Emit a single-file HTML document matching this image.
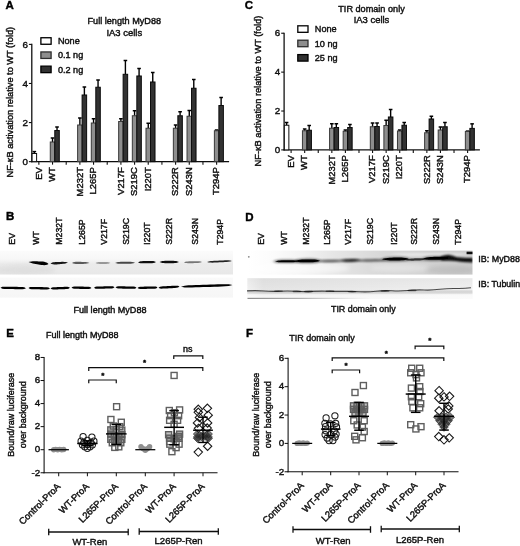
<!DOCTYPE html>
<html lang="en"><head><meta charset="utf-8"><title>MyD88 mutants figure</title>
<style>html,body{margin:0;padding:0;background:#fff}svg{display:block}text{font-family:'Liberation Sans', Arial, Helvetica, sans-serif;stroke:#000;stroke-width:0.4px;paint-order:stroke}</style>
</head><body>
<svg width="520" height="546" viewBox="0 0 520 546">
<rect width="520" height="546" fill="#fff"/>
<defs><filter id="soft" x="0" y="0" width="520" height="546" filterUnits="userSpaceOnUse"><feGaussianBlur stdDeviation="0.42"/></filter></defs>
<g filter="url(#soft)">
<text x="5.5" y="8.7" font-size="11.5" text-anchor="start" font-weight="bold" fill="#000">A</text>
<text x="244.8" y="8.7" font-size="11.5" text-anchor="start" font-weight="bold" fill="#000">C</text>
<text x="6" y="220.4" font-size="11.5" text-anchor="start" font-weight="bold" fill="#000">B</text>
<text x="245.3" y="220.8" font-size="11.5" text-anchor="start" font-weight="bold" fill="#000">D</text>
<text x="6.3" y="336.7" font-size="11.5" text-anchor="start" font-weight="bold" fill="#000">E</text>
<text x="246" y="336.7" font-size="11.5" text-anchor="start" font-weight="bold" fill="#000">F</text>
<line x1="31.80" y1="43.80" x2="31.80" y2="162.25" stroke="#111" stroke-width="1.3"/>
<line x1="31.20" y1="161.65" x2="229.10" y2="161.65" stroke="#111" stroke-width="1.3"/>
<line x1="28.90" y1="161.65" x2="31.80" y2="161.65" stroke="#111" stroke-width="1.1"/>
<text x="28.0" y="164.75" font-size="9.8" text-anchor="end" font-weight="normal" fill="#111">0</text>
<line x1="28.90" y1="122.57" x2="31.80" y2="122.57" stroke="#111" stroke-width="1.1"/>
<text x="28.0" y="125.67" font-size="9.8" text-anchor="end" font-weight="normal" fill="#111">2</text>
<line x1="28.90" y1="83.48" x2="31.80" y2="83.48" stroke="#111" stroke-width="1.1"/>
<text x="28.0" y="86.58" font-size="9.8" text-anchor="end" font-weight="normal" fill="#111">4</text>
<line x1="28.90" y1="44.40" x2="31.80" y2="44.40" stroke="#111" stroke-width="1.1"/>
<text x="28.0" y="47.5" font-size="9.8" text-anchor="end" font-weight="normal" fill="#111">6</text>
<line x1="38.85" y1="161.65" x2="38.85" y2="164.65" stroke="#111" stroke-width="1.1"/>
<text x="41.55" y="167.1" font-size="9.45" text-anchor="end" font-weight="normal" fill="#111" transform="rotate(-90 41.55 167.1)">EV</text>
<line x1="52.53" y1="161.65" x2="52.53" y2="164.65" stroke="#111" stroke-width="1.1"/>
<text x="55.23" y="167.1" font-size="9.45" text-anchor="end" font-weight="normal" fill="#111" transform="rotate(-90 55.23 167.1)">WT</text>
<line x1="66.20" y1="161.65" x2="66.20" y2="164.65" stroke="#111" stroke-width="1.1"/>
<line x1="79.88" y1="161.65" x2="79.88" y2="164.65" stroke="#111" stroke-width="1.1"/>
<text x="82.58" y="167.1" font-size="9.45" text-anchor="end" font-weight="normal" fill="#111" transform="rotate(-90 82.58 167.1)">M232T</text>
<line x1="93.55" y1="161.65" x2="93.55" y2="164.65" stroke="#111" stroke-width="1.1"/>
<text x="96.25" y="167.1" font-size="9.45" text-anchor="end" font-weight="normal" fill="#111" transform="rotate(-90 96.25 167.1)">L265P</text>
<line x1="107.22" y1="161.65" x2="107.22" y2="164.65" stroke="#111" stroke-width="1.1"/>
<line x1="120.90" y1="161.65" x2="120.90" y2="164.65" stroke="#111" stroke-width="1.1"/>
<text x="123.6" y="167.1" font-size="9.45" text-anchor="end" font-weight="normal" fill="#111" transform="rotate(-90 123.6 167.1)">V217F</text>
<line x1="134.58" y1="161.65" x2="134.58" y2="164.65" stroke="#111" stroke-width="1.1"/>
<text x="137.28" y="167.1" font-size="9.45" text-anchor="end" font-weight="normal" fill="#111" transform="rotate(-90 137.28 167.1)">S219C</text>
<line x1="148.25" y1="161.65" x2="148.25" y2="164.65" stroke="#111" stroke-width="1.1"/>
<text x="150.95" y="167.1" font-size="9.45" text-anchor="end" font-weight="normal" fill="#111" transform="rotate(-90 150.95 167.1)">I220T</text>
<line x1="161.93" y1="161.65" x2="161.93" y2="164.65" stroke="#111" stroke-width="1.1"/>
<line x1="175.60" y1="161.65" x2="175.60" y2="164.65" stroke="#111" stroke-width="1.1"/>
<text x="178.3" y="167.1" font-size="9.45" text-anchor="end" font-weight="normal" fill="#111" transform="rotate(-90 178.3 167.1)">S222R</text>
<line x1="189.28" y1="161.65" x2="189.28" y2="164.65" stroke="#111" stroke-width="1.1"/>
<text x="191.97" y="167.1" font-size="9.45" text-anchor="end" font-weight="normal" fill="#111" transform="rotate(-90 191.97 167.1)">S243N</text>
<line x1="202.95" y1="161.65" x2="202.95" y2="164.65" stroke="#111" stroke-width="1.1"/>
<line x1="216.62" y1="161.65" x2="216.62" y2="164.65" stroke="#111" stroke-width="1.1"/>
<text x="219.32" y="167.1" font-size="9.45" text-anchor="end" font-weight="normal" fill="#111" transform="rotate(-90 219.32 167.1)">T294P</text>
<line x1="34.35" y1="151.60" x2="34.35" y2="153.50" stroke="#000" stroke-width="1.4"/>
<line x1="32.55" y1="151.60" x2="36.15" y2="151.60" stroke="#000" stroke-width="1.5"/>
<rect x="32.10" y="153.50" width="4.50" height="8.15" fill="#ffffff" stroke="#111" stroke-width="1.0"/>
<line x1="52.53" y1="138.00" x2="52.53" y2="142.00" stroke="#000" stroke-width="1.4"/>
<line x1="50.73" y1="138.00" x2="54.33" y2="138.00" stroke="#000" stroke-width="1.5"/>
<rect x="50.28" y="142.00" width="4.50" height="19.65" fill="#8e8e8e" stroke="#3a3a3a" stroke-width="1.0"/>
<line x1="57.03" y1="127.00" x2="57.03" y2="130.50" stroke="#000" stroke-width="1.4"/>
<line x1="55.23" y1="127.00" x2="58.83" y2="127.00" stroke="#000" stroke-width="1.5"/>
<rect x="54.78" y="130.50" width="4.50" height="31.15" fill="#333333" stroke="#0a0a0a" stroke-width="1.0"/>
<line x1="79.88" y1="118.00" x2="79.88" y2="125.00" stroke="#000" stroke-width="1.4"/>
<line x1="78.08" y1="118.00" x2="81.67" y2="118.00" stroke="#000" stroke-width="1.5"/>
<rect x="77.62" y="125.00" width="4.50" height="36.65" fill="#8e8e8e" stroke="#3a3a3a" stroke-width="1.0"/>
<line x1="84.38" y1="87.00" x2="84.38" y2="95.00" stroke="#000" stroke-width="1.4"/>
<line x1="82.58" y1="87.00" x2="86.17" y2="87.00" stroke="#000" stroke-width="1.5"/>
<rect x="82.12" y="95.00" width="4.50" height="66.65" fill="#333333" stroke="#0a0a0a" stroke-width="1.0"/>
<line x1="93.55" y1="118.75" x2="93.55" y2="123.00" stroke="#000" stroke-width="1.4"/>
<line x1="91.75" y1="118.75" x2="95.35" y2="118.75" stroke="#000" stroke-width="1.5"/>
<rect x="91.30" y="123.00" width="4.50" height="38.65" fill="#8e8e8e" stroke="#3a3a3a" stroke-width="1.0"/>
<line x1="98.05" y1="80.00" x2="98.05" y2="87.25" stroke="#000" stroke-width="1.4"/>
<line x1="96.25" y1="80.00" x2="99.85" y2="80.00" stroke="#000" stroke-width="1.5"/>
<rect x="95.80" y="87.25" width="4.50" height="74.40" fill="#333333" stroke="#0a0a0a" stroke-width="1.0"/>
<line x1="120.90" y1="118.75" x2="120.90" y2="121.50" stroke="#000" stroke-width="1.4"/>
<line x1="119.10" y1="118.75" x2="122.70" y2="118.75" stroke="#000" stroke-width="1.5"/>
<rect x="118.65" y="121.50" width="4.50" height="40.15" fill="#8e8e8e" stroke="#3a3a3a" stroke-width="1.0"/>
<line x1="125.40" y1="60.50" x2="125.40" y2="74.30" stroke="#000" stroke-width="1.4"/>
<line x1="123.60" y1="60.50" x2="127.20" y2="60.50" stroke="#000" stroke-width="1.5"/>
<rect x="123.15" y="74.30" width="4.50" height="87.35" fill="#333333" stroke="#0a0a0a" stroke-width="1.0"/>
<line x1="134.58" y1="110.75" x2="134.58" y2="115.75" stroke="#000" stroke-width="1.4"/>
<line x1="132.78" y1="110.75" x2="136.38" y2="110.75" stroke="#000" stroke-width="1.5"/>
<rect x="132.33" y="115.75" width="4.50" height="45.90" fill="#8e8e8e" stroke="#3a3a3a" stroke-width="1.0"/>
<line x1="139.08" y1="68.50" x2="139.08" y2="76.00" stroke="#000" stroke-width="1.4"/>
<line x1="137.28" y1="68.50" x2="140.88" y2="68.50" stroke="#000" stroke-width="1.5"/>
<rect x="136.83" y="76.00" width="4.50" height="85.65" fill="#333333" stroke="#0a0a0a" stroke-width="1.0"/>
<line x1="148.25" y1="123.25" x2="148.25" y2="128.25" stroke="#000" stroke-width="1.4"/>
<line x1="146.45" y1="123.25" x2="150.05" y2="123.25" stroke="#000" stroke-width="1.5"/>
<rect x="146.00" y="128.25" width="4.50" height="33.40" fill="#8e8e8e" stroke="#3a3a3a" stroke-width="1.0"/>
<line x1="152.75" y1="72.50" x2="152.75" y2="82.00" stroke="#000" stroke-width="1.4"/>
<line x1="150.95" y1="72.50" x2="154.55" y2="72.50" stroke="#000" stroke-width="1.5"/>
<rect x="150.50" y="82.00" width="4.50" height="79.65" fill="#333333" stroke="#0a0a0a" stroke-width="1.0"/>
<line x1="175.60" y1="125.00" x2="175.60" y2="128.25" stroke="#000" stroke-width="1.4"/>
<line x1="173.80" y1="125.00" x2="177.40" y2="125.00" stroke="#000" stroke-width="1.5"/>
<rect x="173.35" y="128.25" width="4.50" height="33.40" fill="#8e8e8e" stroke="#3a3a3a" stroke-width="1.0"/>
<line x1="180.10" y1="111.75" x2="180.10" y2="115.75" stroke="#000" stroke-width="1.4"/>
<line x1="178.30" y1="111.75" x2="181.90" y2="111.75" stroke="#000" stroke-width="1.5"/>
<rect x="177.85" y="115.75" width="4.50" height="45.90" fill="#333333" stroke="#0a0a0a" stroke-width="1.0"/>
<line x1="189.28" y1="110.50" x2="189.28" y2="116.25" stroke="#000" stroke-width="1.4"/>
<line x1="187.47" y1="110.50" x2="191.08" y2="110.50" stroke="#000" stroke-width="1.5"/>
<rect x="187.03" y="116.25" width="4.50" height="45.40" fill="#8e8e8e" stroke="#3a3a3a" stroke-width="1.0"/>
<line x1="193.78" y1="79.50" x2="193.78" y2="88.25" stroke="#000" stroke-width="1.4"/>
<line x1="191.97" y1="79.50" x2="195.58" y2="79.50" stroke="#000" stroke-width="1.5"/>
<rect x="191.53" y="88.25" width="4.50" height="73.40" fill="#333333" stroke="#0a0a0a" stroke-width="1.0"/>
<line x1="216.62" y1="130.00" x2="216.62" y2="130.75" stroke="#000" stroke-width="1.4"/>
<line x1="214.82" y1="130.00" x2="218.43" y2="130.00" stroke="#000" stroke-width="1.5"/>
<rect x="214.38" y="130.75" width="4.50" height="30.90" fill="#8e8e8e" stroke="#3a3a3a" stroke-width="1.0"/>
<line x1="221.12" y1="97.50" x2="221.12" y2="105.50" stroke="#000" stroke-width="1.4"/>
<line x1="219.32" y1="97.50" x2="222.93" y2="97.50" stroke="#000" stroke-width="1.5"/>
<rect x="218.88" y="105.50" width="4.50" height="56.15" fill="#333333" stroke="#0a0a0a" stroke-width="1.0"/>
<rect x="40.90" y="37.75" width="10.20" height="6.50" fill="#ffffff" stroke="#000" stroke-width="1.3"/>
<text x="57.9" y="44.15" font-size="9.15" text-anchor="start" font-weight="normal" fill="#111">None</text>
<rect x="40.90" y="51.95" width="10.20" height="6.50" fill="#8e8e8e" stroke="#2e2e2e" stroke-width="1.3"/>
<text x="57.9" y="58.35" font-size="9.15" text-anchor="start" font-weight="normal" fill="#111">0.1 ng</text>
<rect x="40.90" y="66.15" width="10.20" height="6.50" fill="#333333" stroke="#000" stroke-width="1.3"/>
<text x="57.9" y="72.55" font-size="9.15" text-anchor="start" font-weight="normal" fill="#111">0.2 ng</text>
<text x="124.3" y="24.4" font-size="9.15" text-anchor="middle" font-weight="normal" fill="#111">Full length MyD88</text>
<text x="124.3" y="35.9" font-size="9.45" text-anchor="middle" font-weight="normal" fill="#111">IA3 cells</text>
<text x="13.5" y="102.2" font-size="9.24" text-anchor="middle" fill="#111" transform="rotate(-90 13.5 102.2)">NF-κB activation relative to WT (fold)</text>
<line x1="284.10" y1="32.65" x2="284.10" y2="150.50" stroke="#111" stroke-width="1.3"/>
<line x1="283.50" y1="149.90" x2="479.90" y2="149.90" stroke="#111" stroke-width="1.3"/>
<line x1="281.20" y1="149.90" x2="284.10" y2="149.90" stroke="#111" stroke-width="1.1"/>
<text x="280.3" y="153.0" font-size="9.8" text-anchor="end" font-weight="normal" fill="#111">0</text>
<line x1="281.20" y1="111.02" x2="284.10" y2="111.02" stroke="#111" stroke-width="1.1"/>
<text x="280.3" y="114.12" font-size="9.8" text-anchor="end" font-weight="normal" fill="#111">2</text>
<line x1="281.20" y1="72.13" x2="284.10" y2="72.13" stroke="#111" stroke-width="1.1"/>
<text x="280.3" y="75.23" font-size="9.8" text-anchor="end" font-weight="normal" fill="#111">4</text>
<line x1="281.20" y1="33.25" x2="284.10" y2="33.25" stroke="#111" stroke-width="1.1"/>
<text x="280.3" y="36.35" font-size="9.8" text-anchor="end" font-weight="normal" fill="#111">6</text>
<line x1="291.10" y1="149.90" x2="291.10" y2="152.90" stroke="#111" stroke-width="1.1"/>
<text x="293.8" y="155.2" font-size="9.45" text-anchor="end" font-weight="normal" fill="#111" transform="rotate(-90 293.8 155.2)">EV</text>
<line x1="304.68" y1="149.90" x2="304.68" y2="152.90" stroke="#111" stroke-width="1.1"/>
<text x="307.38" y="155.2" font-size="9.45" text-anchor="end" font-weight="normal" fill="#111" transform="rotate(-90 307.38 155.2)">WT</text>
<line x1="318.25" y1="149.90" x2="318.25" y2="152.90" stroke="#111" stroke-width="1.1"/>
<line x1="331.83" y1="149.90" x2="331.83" y2="152.90" stroke="#111" stroke-width="1.1"/>
<text x="334.53" y="155.2" font-size="9.45" text-anchor="end" font-weight="normal" fill="#111" transform="rotate(-90 334.53 155.2)">M232T</text>
<line x1="345.41" y1="149.90" x2="345.41" y2="152.90" stroke="#111" stroke-width="1.1"/>
<text x="348.11" y="155.2" font-size="9.45" text-anchor="end" font-weight="normal" fill="#111" transform="rotate(-90 348.11 155.2)">L265P</text>
<line x1="358.99" y1="149.90" x2="358.99" y2="152.90" stroke="#111" stroke-width="1.1"/>
<line x1="372.56" y1="149.90" x2="372.56" y2="152.90" stroke="#111" stroke-width="1.1"/>
<text x="375.26" y="155.2" font-size="9.45" text-anchor="end" font-weight="normal" fill="#111" transform="rotate(-90 375.26 155.2)">V217F</text>
<line x1="386.14" y1="149.90" x2="386.14" y2="152.90" stroke="#111" stroke-width="1.1"/>
<text x="388.84" y="155.2" font-size="9.45" text-anchor="end" font-weight="normal" fill="#111" transform="rotate(-90 388.84 155.2)">S219C</text>
<line x1="399.72" y1="149.90" x2="399.72" y2="152.90" stroke="#111" stroke-width="1.1"/>
<text x="402.42" y="155.2" font-size="9.45" text-anchor="end" font-weight="normal" fill="#111" transform="rotate(-90 402.42 155.2)">I220T</text>
<line x1="413.29" y1="149.90" x2="413.29" y2="152.90" stroke="#111" stroke-width="1.1"/>
<line x1="426.87" y1="149.90" x2="426.87" y2="152.90" stroke="#111" stroke-width="1.1"/>
<text x="429.57" y="155.2" font-size="9.45" text-anchor="end" font-weight="normal" fill="#111" transform="rotate(-90 429.57 155.2)">S222R</text>
<line x1="440.45" y1="149.90" x2="440.45" y2="152.90" stroke="#111" stroke-width="1.1"/>
<text x="443.15" y="155.2" font-size="9.45" text-anchor="end" font-weight="normal" fill="#111" transform="rotate(-90 443.15 155.2)">S243N</text>
<line x1="454.02" y1="149.90" x2="454.02" y2="152.90" stroke="#111" stroke-width="1.1"/>
<line x1="467.60" y1="149.90" x2="467.60" y2="152.90" stroke="#111" stroke-width="1.1"/>
<text x="470.3" y="155.2" font-size="9.45" text-anchor="end" font-weight="normal" fill="#111" transform="rotate(-90 470.3 155.2)">T294P</text>
<line x1="286.60" y1="122.50" x2="286.60" y2="125.25" stroke="#000" stroke-width="1.4"/>
<line x1="284.80" y1="122.50" x2="288.40" y2="122.50" stroke="#000" stroke-width="1.5"/>
<rect x="284.35" y="125.25" width="4.50" height="24.65" fill="#ffffff" stroke="#111" stroke-width="1.0"/>
<line x1="304.68" y1="129.00" x2="304.68" y2="130.75" stroke="#000" stroke-width="1.4"/>
<line x1="302.88" y1="129.00" x2="306.48" y2="129.00" stroke="#000" stroke-width="1.5"/>
<rect x="302.43" y="130.75" width="4.50" height="19.15" fill="#8e8e8e" stroke="#3a3a3a" stroke-width="1.0"/>
<line x1="309.18" y1="125.50" x2="309.18" y2="130.25" stroke="#000" stroke-width="1.4"/>
<line x1="307.38" y1="125.50" x2="310.98" y2="125.50" stroke="#000" stroke-width="1.5"/>
<rect x="306.93" y="130.25" width="4.50" height="19.65" fill="#333333" stroke="#0a0a0a" stroke-width="1.0"/>
<line x1="331.83" y1="123.75" x2="331.83" y2="128.25" stroke="#000" stroke-width="1.4"/>
<line x1="330.03" y1="123.75" x2="333.63" y2="123.75" stroke="#000" stroke-width="1.5"/>
<rect x="329.58" y="128.25" width="4.50" height="21.65" fill="#8e8e8e" stroke="#3a3a3a" stroke-width="1.0"/>
<line x1="336.33" y1="123.75" x2="336.33" y2="127.50" stroke="#000" stroke-width="1.4"/>
<line x1="334.53" y1="123.75" x2="338.13" y2="123.75" stroke="#000" stroke-width="1.5"/>
<rect x="334.08" y="127.50" width="4.50" height="22.40" fill="#333333" stroke="#0a0a0a" stroke-width="1.0"/>
<line x1="345.41" y1="130.00" x2="345.41" y2="131.25" stroke="#000" stroke-width="1.4"/>
<line x1="343.61" y1="130.00" x2="347.21" y2="130.00" stroke="#000" stroke-width="1.5"/>
<rect x="343.16" y="131.25" width="4.50" height="18.65" fill="#8e8e8e" stroke="#3a3a3a" stroke-width="1.0"/>
<line x1="349.91" y1="124.50" x2="349.91" y2="127.50" stroke="#000" stroke-width="1.4"/>
<line x1="348.11" y1="124.50" x2="351.71" y2="124.50" stroke="#000" stroke-width="1.5"/>
<rect x="347.66" y="127.50" width="4.50" height="22.40" fill="#333333" stroke="#0a0a0a" stroke-width="1.0"/>
<line x1="372.56" y1="123.00" x2="372.56" y2="126.75" stroke="#000" stroke-width="1.4"/>
<line x1="370.76" y1="123.00" x2="374.36" y2="123.00" stroke="#000" stroke-width="1.5"/>
<rect x="370.31" y="126.75" width="4.50" height="23.15" fill="#8e8e8e" stroke="#3a3a3a" stroke-width="1.0"/>
<line x1="377.06" y1="123.00" x2="377.06" y2="126.50" stroke="#000" stroke-width="1.4"/>
<line x1="375.26" y1="123.00" x2="378.86" y2="123.00" stroke="#000" stroke-width="1.5"/>
<rect x="374.81" y="126.50" width="4.50" height="23.40" fill="#333333" stroke="#0a0a0a" stroke-width="1.0"/>
<line x1="386.14" y1="120.25" x2="386.14" y2="125.50" stroke="#000" stroke-width="1.4"/>
<line x1="384.34" y1="120.25" x2="387.94" y2="120.25" stroke="#000" stroke-width="1.5"/>
<rect x="383.89" y="125.50" width="4.50" height="24.40" fill="#8e8e8e" stroke="#3a3a3a" stroke-width="1.0"/>
<line x1="390.64" y1="109.50" x2="390.64" y2="117.00" stroke="#000" stroke-width="1.4"/>
<line x1="388.84" y1="109.50" x2="392.44" y2="109.50" stroke="#000" stroke-width="1.5"/>
<rect x="388.39" y="117.00" width="4.50" height="32.90" fill="#333333" stroke="#0a0a0a" stroke-width="1.0"/>
<line x1="399.72" y1="130.00" x2="399.72" y2="131.00" stroke="#000" stroke-width="1.4"/>
<line x1="397.92" y1="130.00" x2="401.52" y2="130.00" stroke="#000" stroke-width="1.5"/>
<rect x="397.47" y="131.00" width="4.50" height="18.90" fill="#8e8e8e" stroke="#3a3a3a" stroke-width="1.0"/>
<line x1="404.22" y1="122.50" x2="404.22" y2="125.25" stroke="#000" stroke-width="1.4"/>
<line x1="402.42" y1="122.50" x2="406.02" y2="122.50" stroke="#000" stroke-width="1.5"/>
<rect x="401.97" y="125.25" width="4.50" height="24.65" fill="#333333" stroke="#0a0a0a" stroke-width="1.0"/>
<line x1="426.87" y1="130.75" x2="426.87" y2="132.75" stroke="#000" stroke-width="1.4"/>
<line x1="425.07" y1="130.75" x2="428.67" y2="130.75" stroke="#000" stroke-width="1.5"/>
<rect x="424.62" y="132.75" width="4.50" height="17.15" fill="#8e8e8e" stroke="#3a3a3a" stroke-width="1.0"/>
<line x1="431.37" y1="116.25" x2="431.37" y2="119.00" stroke="#000" stroke-width="1.4"/>
<line x1="429.57" y1="116.25" x2="433.17" y2="116.25" stroke="#000" stroke-width="1.5"/>
<rect x="429.12" y="119.00" width="4.50" height="30.90" fill="#333333" stroke="#0a0a0a" stroke-width="1.0"/>
<line x1="440.45" y1="127.00" x2="440.45" y2="130.00" stroke="#000" stroke-width="1.4"/>
<line x1="438.65" y1="127.00" x2="442.25" y2="127.00" stroke="#000" stroke-width="1.5"/>
<rect x="438.20" y="130.00" width="4.50" height="19.90" fill="#8e8e8e" stroke="#3a3a3a" stroke-width="1.0"/>
<line x1="444.95" y1="122.50" x2="444.95" y2="126.75" stroke="#000" stroke-width="1.4"/>
<line x1="443.15" y1="122.50" x2="446.75" y2="122.50" stroke="#000" stroke-width="1.5"/>
<rect x="442.70" y="126.75" width="4.50" height="23.15" fill="#333333" stroke="#0a0a0a" stroke-width="1.0"/>
<line x1="467.60" y1="131.10" x2="467.60" y2="131.50" stroke="#000" stroke-width="1.4"/>
<line x1="465.80" y1="131.10" x2="469.40" y2="131.10" stroke="#000" stroke-width="1.5"/>
<rect x="465.35" y="131.50" width="4.50" height="18.40" fill="#8e8e8e" stroke="#3a3a3a" stroke-width="1.0"/>
<line x1="472.10" y1="123.85" x2="472.10" y2="128.40" stroke="#000" stroke-width="1.4"/>
<line x1="470.30" y1="123.85" x2="473.90" y2="123.85" stroke="#000" stroke-width="1.5"/>
<rect x="469.85" y="128.40" width="4.50" height="21.50" fill="#333333" stroke="#0a0a0a" stroke-width="1.0"/>
<rect x="297.80" y="25.80" width="10.20" height="6.50" fill="#ffffff" stroke="#000" stroke-width="1.3"/>
<text x="314.8" y="32.2" font-size="9.15" text-anchor="start" font-weight="normal" fill="#111">None</text>
<rect x="297.80" y="40.20" width="10.20" height="6.50" fill="#8e8e8e" stroke="#2e2e2e" stroke-width="1.3"/>
<text x="314.8" y="46.6" font-size="9.15" text-anchor="start" font-weight="normal" fill="#111">10 ng</text>
<rect x="297.80" y="54.60" width="10.20" height="6.50" fill="#333333" stroke="#000" stroke-width="1.3"/>
<text x="314.8" y="61.0" font-size="9.15" text-anchor="start" font-weight="normal" fill="#111">25 ng</text>
<text x="371.5" y="11.6" font-size="9.15" text-anchor="middle" font-weight="normal" fill="#111">TIR domain only</text>
<text x="371.5" y="23.1" font-size="9.45" text-anchor="middle" font-weight="normal" fill="#111">IA3 cells</text>
<text x="261.5" y="91.05" font-size="9.24" text-anchor="middle" fill="#111" transform="rotate(-90 261.5 91.05)">NF-κB activation relative to WT (fold)</text>
<defs>
<filter id="b1" x="-20%" y="-300%" width="140%" height="700%"><feGaussianBlur stdDeviation="0.95"/></filter>
<filter id="b2" x="-20%" y="-300%" width="140%" height="700%"><feGaussianBlur stdDeviation="0.65"/></filter>
<filter id="b3" x="-20%" y="-300%" width="140%" height="700%"><feGaussianBlur stdDeviation="2.2"/></filter>
<filter id="b4" x="-20%" y="-300%" width="140%" height="700%"><feGaussianBlur stdDeviation="0.4"/></filter>
<linearGradient id="gB1" x1="0" y1="0" x2="0" y2="1"><stop offset="0" stop-color="#fbfbfb"/><stop offset="0.35" stop-color="#f7f7f7"/><stop offset="0.55" stop-color="#ebebeb"/><stop offset="1" stop-color="#e8e8e8"/></linearGradient>
<linearGradient id="gB2" x1="0" y1="0" x2="0" y2="1"><stop offset="0" stop-color="#fafafa"/><stop offset="1" stop-color="#f6f6f6"/></linearGradient>
<linearGradient id="gD1" x1="0" y1="0" x2="1" y2="0"><stop offset="0" stop-color="#ffffff"/><stop offset="0.12" stop-color="#fbfbfb"/><stop offset="0.24" stop-color="#f3f3f3"/><stop offset="0.38" stop-color="#e6e6e6"/><stop offset="0.6" stop-color="#d8d8d8"/><stop offset="1" stop-color="#cbcbcb"/></linearGradient>
<linearGradient id="gD2" x1="0" y1="0" x2="1" y2="0"><stop offset="0" stop-color="#f6f6f6"/><stop offset="0.07" stop-color="#e9e9e9"/><stop offset="0.45" stop-color="#eeeeee"/><stop offset="1" stop-color="#f5f5f5"/></linearGradient>
<linearGradient id="gD2v" x1="0" y1="0" x2="0" y2="1"><stop offset="0" stop-color="#000" stop-opacity="0.05"/><stop offset="0.55" stop-color="#000" stop-opacity="0.02"/><stop offset="0.8" stop-color="#fff" stop-opacity="0.5"/><stop offset="1" stop-color="#fff" stop-opacity="0.6"/></linearGradient>
<clipPath id="cD1"><rect x="247.5" y="250.6" width="225" height="24"/></clipPath>
<clipPath id="cB1"><rect x="0" y="250.8" width="233" height="23.7"/></clipPath>
</defs>
<rect x="0.00" y="250.80" width="233.00" height="23.70" fill="url(#gB1)" stroke="none" stroke-width="1"/>
<g clip-path="url(#cB1)"><ellipse cx="25" cy="270" rx="30" ry="5" fill="#d8d8d8" opacity="0.6" filter="url(#b3)"/></g>
<rect x="0.00" y="277.60" width="233.00" height="20.00" fill="url(#gB2)" stroke="none" stroke-width="1"/>
<polygon points="28.5,262.00 29.9,261.67 31.4,261.45 32.8,261.34 34.2,261.30 35.6,261.31 37.1,261.35 38.5,261.40 39.9,261.45 41.4,261.51 42.8,261.60 44.2,261.79 45.6,262.15 47.1,262.81 48.5,263.90 48.5,263.90 47.1,264.72 45.6,265.10 44.2,265.19 42.8,265.11 41.4,264.94 39.9,264.72 38.5,264.50 37.1,264.28 35.6,264.04 34.2,263.78 32.8,263.48 31.4,263.09 29.9,262.60 28.5,262.00" fill="#000" opacity="1.0" filter="url(#b2)"/>
<polygon points="50.5,263.50 51.8,262.79 53.0,262.37 54.2,262.13 55.5,262.01 56.8,261.95 58.0,261.92 59.2,261.90 60.5,261.88 61.8,261.86 63.0,261.86 64.2,261.91 65.5,262.03 66.8,262.25 68.0,262.60 68.0,262.60 66.8,263.08 65.5,263.43 64.2,263.67 63.0,263.85 61.8,263.98 60.5,264.09 59.2,264.20 58.0,264.30 56.8,264.40 55.5,264.47 54.2,264.48 53.0,264.37 51.8,264.08 50.5,263.50" fill="#000" opacity="0.92" filter="url(#b2)"/>
<polygon points="72.0,262.90 73.2,262.33 74.5,262.01 75.8,261.85 77.0,261.80 78.2,261.80 79.5,261.82 80.8,261.85 82.0,261.88 83.2,261.92 84.5,261.97 85.8,262.07 87.0,262.23 88.2,262.50 89.5,262.90 89.5,262.90 88.2,263.30 87.0,263.57 85.8,263.73 84.5,263.83 83.2,263.88 82.0,263.92 80.8,263.95 79.5,263.98 78.2,264.00 77.0,264.00 75.8,263.95 74.5,263.79 73.2,263.47 72.0,262.90" fill="#000" opacity="0.62" filter="url(#b2)"/>
<polygon points="95.5,263.00 96.6,262.53 97.6,262.25 98.7,262.09 99.8,262.01 100.9,261.97 101.9,261.96 103.0,261.95 104.1,261.94 105.1,261.94 106.2,261.96 107.3,262.03 108.4,262.17 109.4,262.45 110.5,262.90 110.5,262.90 109.4,263.37 108.4,263.65 107.3,263.81 106.2,263.89 105.1,263.93 104.1,263.94 103.0,263.95 101.9,263.96 100.9,263.96 99.8,263.94 98.7,263.87 97.6,263.73 96.6,263.45 95.5,263.00" fill="#000" opacity="0.36" filter="url(#b2)"/>
<polygon points="115.0,262.90 116.4,262.40 117.9,262.09 119.3,261.92 120.7,261.83 122.1,261.79 123.6,261.76 125.0,261.75 126.4,261.74 127.9,261.73 129.3,261.74 130.7,261.80 132.1,261.95 133.6,262.23 135.0,262.70 135.0,262.70 133.6,263.20 132.1,263.51 130.7,263.68 129.3,263.77 127.9,263.81 126.4,263.84 125.0,263.85 123.6,263.86 122.1,263.87 120.7,263.86 119.3,263.80 117.9,263.65 116.4,263.37 115.0,262.90" fill="#000" opacity="0.7" filter="url(#b2)"/>
<polygon points="138.0,262.30 139.3,261.66 140.6,261.32 141.9,261.16 143.1,261.08 144.4,261.05 145.7,261.02 147.0,261.00 148.3,260.98 149.6,260.96 150.9,260.95 152.1,260.98 153.4,261.11 154.7,261.40 156.0,262.00 156.0,262.00 154.7,262.64 153.4,262.98 152.1,263.14 150.9,263.22 149.6,263.25 148.3,263.28 147.0,263.30 145.7,263.32 144.4,263.34 143.1,263.35 141.9,263.32 140.6,263.19 139.3,262.90 138.0,262.30" fill="#000" opacity="0.95" filter="url(#b2)"/>
<polygon points="159.5,262.00 160.9,261.38 162.3,261.06 163.7,260.92 165.1,260.87 166.5,260.85 167.9,260.85 169.2,260.85 170.6,260.85 172.0,260.85 173.4,260.87 174.8,260.92 176.2,261.06 177.6,261.38 179.0,262.00 179.0,262.00 177.6,262.62 176.2,262.94 174.8,263.08 173.4,263.13 172.0,263.15 170.6,263.15 169.2,263.15 167.9,263.15 166.5,263.15 165.1,263.13 163.7,263.08 162.3,262.94 160.9,262.62 159.5,262.00" fill="#000" opacity="0.95" filter="url(#b2)"/>
<polygon points="184.0,262.40 185.3,261.86 186.6,261.57 187.9,261.42 189.1,261.35 190.4,261.31 191.7,261.28 193.0,261.25 194.3,261.22 195.6,261.19 196.9,261.18 198.1,261.19 199.4,261.28 200.7,261.52 202.0,262.00 202.0,262.00 200.7,262.54 199.4,262.83 198.1,262.98 196.9,263.05 195.6,263.09 194.3,263.12 193.0,263.15 191.7,263.18 190.4,263.21 189.1,263.22 187.9,263.21 186.6,263.12 185.3,262.88 184.0,262.40" fill="#000" opacity="0.5" filter="url(#b2)"/>
<polygon points="207.0,262.00 208.8,261.38 210.6,261.06 212.4,260.90 214.1,260.79 215.9,260.71 217.7,260.63 219.5,260.55 221.3,260.47 223.1,260.39 224.9,260.32 226.6,260.27 228.4,260.28 230.2,260.44 232.0,260.90 232.0,260.90 230.2,261.52 228.4,261.84 226.6,262.00 224.9,262.11 223.1,262.19 221.3,262.27 219.5,262.35 217.7,262.43 215.9,262.51 214.1,262.58 212.4,262.63 210.6,262.62 208.8,262.46 207.0,262.00" fill="#000" opacity="0.85" filter="url(#b2)"/>
<polygon points="0.5,287.70 2.3,286.83 4.1,286.66 6.0,286.66 7.8,286.69 9.6,286.73 11.4,286.76 13.2,286.80 15.1,286.84 16.9,286.87 18.7,286.91 20.5,286.95 22.4,287.02 24.2,287.26 26.0,288.20 26.0,288.20 24.2,289.07 22.4,289.24 20.5,289.24 18.7,289.21 16.9,289.17 15.1,289.14 13.2,289.10 11.4,289.06 9.6,289.03 7.8,288.99 6.0,288.95 4.1,288.88 2.3,288.64 0.5,287.70" fill="#000" opacity="1.0" filter="url(#b2)"/>
<polygon points="28.5,288.00 30.0,287.12 31.6,286.95 33.1,286.94 34.6,286.96 36.2,286.99 37.7,287.02 39.2,287.05 40.8,287.08 42.3,287.11 43.9,287.14 45.4,287.17 46.9,287.23 48.5,287.47 50.0,288.40 50.0,288.40 48.5,289.28 46.9,289.45 45.4,289.46 43.9,289.44 42.3,289.41 40.8,289.38 39.2,289.35 37.7,289.32 36.2,289.29 34.6,289.26 33.1,289.23 31.6,289.17 30.0,288.93 28.5,288.00" fill="#000" opacity="1.0" filter="url(#b2)"/>
<polygon points="50.5,288.50 51.9,287.55 53.3,287.29 54.7,287.20 56.1,287.15 57.5,287.10 58.9,287.05 60.2,287.00 61.6,286.95 63.0,286.90 64.4,286.85 65.8,286.80 67.2,286.79 68.6,286.95 70.0,287.80 70.0,287.80 68.6,288.75 67.2,289.01 65.8,289.10 64.4,289.15 63.0,289.20 61.6,289.25 60.2,289.30 58.9,289.35 57.5,289.40 56.1,289.45 54.7,289.50 53.3,289.51 51.9,289.35 50.5,288.50" fill="#000" opacity="1.0" filter="url(#b2)"/>
<polygon points="71.5,287.60 72.9,286.72 74.4,286.53 75.8,286.52 77.2,286.54 78.6,286.56 80.1,286.58 81.5,286.60 82.9,286.62 84.4,286.64 85.8,286.66 87.2,286.69 88.6,286.75 90.1,286.97 91.5,287.90 91.5,287.90 90.1,288.78 88.6,288.97 87.2,288.98 85.8,288.96 84.4,288.94 82.9,288.92 81.5,288.90 80.1,288.88 78.6,288.86 77.2,288.84 75.8,288.81 74.4,288.75 72.9,288.53 71.5,287.60" fill="#000" opacity="1.0" filter="url(#b2)"/>
<polygon points="94.0,287.80 95.5,286.85 96.9,286.60 98.4,286.53 99.9,286.48 101.3,286.44 102.8,286.39 104.2,286.35 105.7,286.31 107.2,286.26 108.6,286.22 110.1,286.18 111.6,286.18 113.0,286.34 114.5,287.20 114.5,287.20 113.0,288.15 111.6,288.40 110.1,288.47 108.6,288.52 107.2,288.56 105.7,288.61 104.2,288.65 102.8,288.69 101.3,288.74 99.9,288.78 98.4,288.82 96.9,288.82 95.5,288.66 94.0,287.80" fill="#000" opacity="1.0" filter="url(#b2)"/>
<polygon points="115.5,287.30 117.0,286.43 118.5,286.26 120.0,286.26 121.5,286.29 123.0,286.33 124.5,286.36 126.0,286.40 127.5,286.44 129.0,286.47 130.5,286.51 132.0,286.55 133.5,286.62 135.0,286.86 136.5,287.80 136.5,287.80 135.0,288.67 133.5,288.84 132.0,288.84 130.5,288.81 129.0,288.77 127.5,288.74 126.0,288.70 124.5,288.66 123.0,288.63 121.5,288.59 120.0,288.55 118.5,288.48 117.0,288.24 115.5,287.30" fill="#000" opacity="1.0" filter="url(#b2)"/>
<polygon points="137.5,287.90 138.9,286.97 140.4,286.73 141.8,286.67 143.2,286.64 144.6,286.61 146.1,286.58 147.5,286.55 148.9,286.52 150.4,286.49 151.8,286.46 153.2,286.44 154.6,286.45 156.1,286.62 157.5,287.50 157.5,287.50 156.1,288.43 154.6,288.67 153.2,288.73 151.8,288.76 150.4,288.79 148.9,288.82 147.5,288.85 146.1,288.88 144.6,288.91 143.2,288.94 141.8,288.96 140.4,288.95 138.9,288.78 137.5,287.90" fill="#000" opacity="1.0" filter="url(#b2)"/>
<polygon points="158.5,287.70 160.0,286.72 161.5,286.43 163.0,286.32 164.5,286.24 166.0,286.16 167.5,286.08 169.0,286.00 170.5,285.92 172.0,285.84 173.5,285.76 175.0,285.69 176.5,285.65 178.0,285.77 179.5,286.60 179.5,286.60 178.0,287.58 176.5,287.87 175.0,287.98 173.5,288.06 172.0,288.14 170.5,288.22 169.0,288.30 167.5,288.38 166.0,288.46 164.5,288.54 163.0,288.61 161.5,288.65 160.0,288.53 158.5,287.70" fill="#000" opacity="1.0" filter="url(#b2)"/>
<polygon points="181.0,286.70 184.7,285.67 188.4,285.35 192.0,285.19 195.7,285.06 199.4,284.94 203.1,284.82 206.8,284.70 210.4,284.58 214.1,284.46 217.8,284.34 221.5,284.22 225.1,284.13 228.8,284.22 232.5,285.00 232.5,285.00 228.8,286.03 225.1,286.35 221.5,286.51 217.8,286.64 214.1,286.76 210.4,286.88 206.8,287.00 203.1,287.12 199.4,287.24 195.7,287.36 192.0,287.48 188.4,287.57 184.7,287.48 181.0,286.70" fill="#000" opacity="1.0" filter="url(#b2)"/>
<text x="110" y="312.5" font-size="9.05" text-anchor="middle" font-weight="normal" fill="#111">Full length MyD88</text>
<text x="15.05" y="244.7" font-size="8.75" text-anchor="start" font-weight="normal" fill="#111" transform="rotate(-90 15.05 244.7)">EV</text>
<text x="38.7" y="244.7" font-size="8.75" text-anchor="start" font-weight="normal" fill="#111" transform="rotate(-90 38.7 244.7)">WT</text>
<text x="61.7" y="244.7" font-size="8.75" text-anchor="start" font-weight="normal" fill="#111" transform="rotate(-90 61.7 244.7)">M232T</text>
<text x="84.55" y="244.7" font-size="8.75" text-anchor="start" font-weight="normal" fill="#111" transform="rotate(-90 84.55 244.7)">L265P</text>
<text x="107.4" y="244.7" font-size="8.75" text-anchor="start" font-weight="normal" fill="#111" transform="rotate(-90 107.4 244.7)">V217F</text>
<text x="129.2" y="244.7" font-size="8.75" text-anchor="start" font-weight="normal" fill="#111" transform="rotate(-90 129.2 244.7)">S219C</text>
<text x="150.4" y="244.7" font-size="8.75" text-anchor="start" font-weight="normal" fill="#111" transform="rotate(-90 150.4 244.7)">I220T</text>
<text x="172.05" y="244.7" font-size="8.75" text-anchor="start" font-weight="normal" fill="#111" transform="rotate(-90 172.05 244.7)">S222R</text>
<text x="197.55" y="244.7" font-size="8.75" text-anchor="start" font-weight="normal" fill="#111" transform="rotate(-90 197.55 244.7)">S243N</text>
<text x="223.3" y="244.7" font-size="8.75" text-anchor="start" font-weight="normal" fill="#111" transform="rotate(-90 223.3 244.7)">T294P</text>
<rect x="247.50" y="250.60" width="225.00" height="24.00" fill="url(#gD1)" stroke="none" stroke-width="1"/>
<g clip-path="url(#cD1)">
<ellipse cx="300" cy="268" rx="50" ry="6" fill="#fff" opacity="0.5" filter="url(#b3)"/>
<ellipse cx="430" cy="254.5" rx="40" ry="1.6" fill="#fff" opacity="0.45" filter="url(#b1)"/>
<ellipse cx="400" cy="268" rx="30" ry="4" fill="#fff" opacity="0.3" filter="url(#b3)"/>
<ellipse cx="450" cy="270" rx="25" ry="4" fill="#000" opacity="0.07" filter="url(#b3)"/>
<polygon points="270.0,261.60 284.5,260.58 299.0,260.14 313.5,259.90 328.0,259.72 342.5,259.54 357.0,259.37 371.5,259.20 386.0,259.03 400.5,258.86 415.0,258.69 429.5,258.53 444.0,258.42 458.5,258.52 473.0,259.20 473.0,259.20 458.5,260.22 444.0,260.66 429.5,260.90 415.0,261.08 400.5,261.26 386.0,261.43 371.5,261.60 357.0,261.77 342.5,261.94 328.0,262.11 313.5,262.27 299.0,262.38 284.5,262.28 270.0,261.60" fill="#000" opacity="0.28" filter="url(#b1)"/>
<polygon points="273.0,261.40 274.9,260.56 276.7,260.04 278.6,259.75 280.4,259.60 282.3,259.54 284.1,259.52 286.0,259.50 287.9,259.49 289.7,259.48 291.6,259.52 293.4,259.63 295.3,259.90 297.1,260.39 299.0,261.20 299.0,261.20 297.1,262.04 295.3,262.56 293.4,262.85 291.6,263.00 289.7,263.06 287.9,263.08 286.0,263.10 284.1,263.11 282.3,263.12 280.4,263.08 278.6,262.97 276.7,262.70 274.9,262.21 273.0,261.40" fill="#000" opacity="0.45" filter="url(#b1)"/>
<polygon points="275.0,261.40 276.7,260.90 278.4,260.59 280.0,260.42 281.7,260.33 283.4,260.29 285.1,260.26 286.8,260.25 288.4,260.24 290.1,260.23 291.8,260.24 293.5,260.30 295.1,260.45 296.8,260.73 298.5,261.20 298.5,261.20 296.8,261.70 295.1,262.01 293.5,262.18 291.8,262.27 290.1,262.31 288.4,262.34 286.8,262.35 285.1,262.36 283.4,262.37 281.7,262.36 280.0,262.30 278.4,262.15 276.7,261.87 275.0,261.40" fill="#000" opacity="0.95" filter="url(#b2)"/>
<polygon points="294.0,261.00 295.9,259.93 297.9,259.27 299.8,258.90 301.7,258.72 303.6,258.64 305.6,258.62 307.5,258.60 309.4,258.59 311.4,258.59 313.3,258.63 315.2,258.79 317.1,259.13 319.1,259.76 321.0,260.80 321.0,260.80 319.1,261.87 317.1,262.53 315.2,262.90 313.3,263.08 311.4,263.16 309.4,263.18 307.5,263.20 305.6,263.21 303.6,263.21 301.7,263.17 299.8,263.01 297.9,262.67 295.9,262.04 294.0,261.00" fill="#000" opacity="0.5" filter="url(#b1)"/>
<polygon points="295.0,261.00 296.8,260.38 298.6,259.97 300.4,259.71 302.1,259.57 303.9,259.50 305.7,259.47 307.5,259.45 309.3,259.44 311.1,259.44 312.9,259.48 314.6,259.60 316.4,259.83 318.2,260.21 320.0,260.80 320.0,260.80 318.2,261.42 316.4,261.83 314.6,262.09 312.9,262.23 311.1,262.30 309.3,262.33 307.5,262.35 305.7,262.36 303.9,262.36 302.1,262.32 300.4,262.20 298.6,261.97 296.8,261.59 295.0,261.00" fill="#000" opacity="1.0" filter="url(#b2)"/>
<polygon points="318.0,261.20 319.7,260.78 321.4,260.47 323.1,260.26 324.9,260.13 326.6,260.05 328.3,260.02 330.0,260.00 331.7,259.99 333.4,260.00 335.1,260.04 336.9,260.15 338.6,260.33 340.3,260.61 342.0,261.00 342.0,261.00 340.3,261.42 338.6,261.73 336.9,261.94 335.1,262.07 333.4,262.15 331.7,262.18 330.0,262.20 328.3,262.21 326.6,262.20 324.9,262.16 323.1,262.05 321.4,261.87 319.7,261.59 318.0,261.20" fill="#000" opacity="0.5" filter="url(#b1)"/>
<polygon points="340.0,260.60 341.5,260.09 343.0,259.72 344.5,259.46 346.0,259.29 347.5,259.19 349.0,259.13 350.5,259.10 352.0,259.08 353.5,259.07 355.0,259.12 356.5,259.23 358.0,259.43 359.5,259.75 361.0,260.20 361.0,260.20 359.5,260.71 358.0,261.08 356.5,261.34 355.0,261.51 353.5,261.61 352.0,261.67 350.5,261.70 349.0,261.72 347.5,261.73 346.0,261.68 344.5,261.57 343.0,261.37 341.5,261.05 340.0,260.60" fill="#000" opacity="0.85" filter="url(#b1)"/>
<polygon points="358.0,260.60 360.0,260.20 362.0,259.91 364.0,259.70 366.0,259.56 368.0,259.48 370.0,259.43 372.0,259.40 374.0,259.37 376.0,259.37 378.0,259.39 380.0,259.47 382.0,259.62 384.0,259.86 386.0,260.20 386.0,260.20 384.0,260.60 382.0,260.89 380.0,261.10 378.0,261.24 376.0,261.32 374.0,261.37 372.0,261.40 370.0,261.43 368.0,261.43 366.0,261.41 364.0,261.33 362.0,261.18 360.0,260.94 358.0,260.60" fill="#000" opacity="0.5" filter="url(#b1)"/>
<polygon points="381.0,259.20 383.1,258.17 385.1,257.53 387.2,257.17 389.3,256.99 391.4,256.91 393.4,256.87 395.5,256.85 397.6,256.83 399.6,256.82 401.7,256.86 403.8,257.00 405.9,257.32 407.9,257.91 410.0,258.90 410.0,258.90 407.9,259.93 405.9,260.57 403.8,260.93 401.7,261.11 399.6,261.19 397.6,261.23 395.5,261.25 393.4,261.27 391.4,261.28 389.3,261.24 387.2,261.10 385.1,260.78 383.1,260.19 381.0,259.20" fill="#000" opacity="0.4" filter="url(#b1)"/>
<polygon points="382.0,259.20 383.9,258.62 385.9,258.20 387.8,257.92 389.7,257.73 391.6,257.63 393.6,257.58 395.5,257.55 397.4,257.53 399.4,257.54 401.3,257.60 403.2,257.74 405.1,257.99 407.1,258.37 409.0,258.90 409.0,258.90 407.1,259.48 405.1,259.90 403.2,260.18 401.3,260.37 399.4,260.47 397.4,260.52 395.5,260.55 393.6,260.57 391.6,260.56 389.7,260.50 387.8,260.36 385.9,260.11 383.9,259.73 382.0,259.20" fill="#000" opacity="1.0" filter="url(#b2)"/>
<polygon points="405.0,259.80 406.6,259.32 408.3,258.95 409.9,258.69 411.6,258.51 413.2,258.39 414.9,258.31 416.5,258.25 418.1,258.20 419.8,258.16 421.4,258.17 423.1,258.24 424.7,258.38 426.4,258.63 428.0,259.00 428.0,259.00 426.4,259.48 424.7,259.85 423.1,260.11 421.4,260.29 419.8,260.41 418.1,260.49 416.5,260.55 414.9,260.60 413.2,260.64 411.6,260.63 409.9,260.56 408.3,260.42 406.6,260.17 405.0,259.80" fill="#000" opacity="0.7" filter="url(#b2)"/>
<polygon points="422.0,258.50 424.0,257.45 426.0,256.80 428.0,256.43 430.0,256.23 432.0,256.14 434.0,256.09 436.0,256.05 438.0,256.02 440.0,255.99 442.0,256.02 444.0,256.14 446.0,256.44 448.0,257.02 450.0,258.00 450.0,258.00 448.0,259.05 446.0,259.70 444.0,260.07 442.0,260.27 440.0,260.36 438.0,260.41 436.0,260.45 434.0,260.48 432.0,260.51 430.0,260.48 428.0,260.36 426.0,260.06 424.0,259.48 422.0,258.50" fill="#000" opacity="0.4" filter="url(#b1)"/>
<polygon points="423.0,258.50 424.9,257.92 426.7,257.49 428.6,257.19 430.4,257.00 432.3,256.89 434.1,256.83 436.0,256.80 437.9,256.78 439.7,256.78 441.6,256.83 443.4,256.97 445.3,257.20 447.1,257.57 449.0,258.10 449.0,258.10 447.1,258.68 445.3,259.11 443.4,259.41 441.6,259.60 439.7,259.71 437.9,259.77 436.0,259.80 434.1,259.82 432.3,259.82 430.4,259.77 428.6,259.63 426.7,259.40 424.9,259.03 423.0,258.50" fill="#000" opacity="1.0" filter="url(#b2)"/>
<path d="M441 256.6 Q446 254.6 449.5 254.9 Q453 255.4 456.5 257.2 Q462 258.2 473 258.0 L473 262.4 Q462 262.2 455.5 261.0 Q450 260.4 441 260.3 Z" fill="#000" opacity="0.95" filter="url(#b1)"/>
<rect x="466.60" y="251.70" width="6.40" height="2.50" fill="#111" stroke="none" stroke-width="0" filter="url(#b2)"/>
</g>
<circle cx="248.8" cy="256.8" r="0.9" fill="#888" filter="url(#b4)"/>
<rect x="247.30" y="278.20" width="225.20" height="20.60" fill="url(#gD2)" stroke="none" stroke-width="1"/>
<rect x="247.30" y="278.20" width="225.20" height="20.60" fill="url(#gD2v)" stroke="none" stroke-width="1"/>
<path d="M247 290.9 Q256 290.3 264 291.0 T280 291.2 T296 291.3 T312 291.4 T328 291.2 T344 291.4 T360 291.7 T376 291.2 T392 290.8 T408 290.5 T424 290.0 T440 289.3 T456 288.5 T471 287.8" fill="none" stroke="#222" stroke-width="1.15" opacity="0.8" filter="url(#b2)"/>
<ellipse cx="278.5" cy="291.1" rx="4.5" ry="0.9" fill="#000" opacity="0.5" filter="url(#b2)"/>
<ellipse cx="297" cy="291.4" rx="4.5" ry="0.9" fill="#000" opacity="0.5" filter="url(#b2)"/>
<ellipse cx="308.5" cy="291.5" rx="4.5" ry="0.9" fill="#000" opacity="0.5" filter="url(#b2)"/>
<ellipse cx="330" cy="291.2" rx="4.5" ry="0.9" fill="#000" opacity="0.5" filter="url(#b2)"/>
<ellipse cx="352" cy="291.6" rx="4.5" ry="0.9" fill="#000" opacity="0.5" filter="url(#b2)"/>
<ellipse cx="385" cy="291.0" rx="4.5" ry="0.9" fill="#000" opacity="0.5" filter="url(#b2)"/>
<ellipse cx="412" cy="290.4" rx="4.5" ry="0.9" fill="#000" opacity="0.5" filter="url(#b2)"/>
<linearGradient id="gLn" x1="247" x2="370" y1="0" y2="0" gradientUnits="userSpaceOnUse"><stop offset="0" stop-color="#6a6a6a"/><stop offset="0.45" stop-color="#999"/><stop offset="0.75" stop-color="#bbb" stop-opacity="0.6"/><stop offset="1" stop-color="#ccc" stop-opacity="0"/></linearGradient>
<rect x="247.5" y="297.85" width="122" height="0.9" fill="url(#gLn)"/>
<text x="363.3" y="312.2" font-size="8.9" text-anchor="middle" font-weight="normal" fill="#111">TIR domain only</text>
<text x="264.2" y="244.7" font-size="8.75" text-anchor="start" font-weight="normal" fill="#111" transform="rotate(-90 264.2 244.7)">EV</text>
<text x="287.4" y="244.7" font-size="8.75" text-anchor="start" font-weight="normal" fill="#111" transform="rotate(-90 287.4 244.7)">WT</text>
<text x="308.9" y="244.7" font-size="8.75" text-anchor="start" font-weight="normal" fill="#111" transform="rotate(-90 308.9 244.7)">M232T</text>
<text x="329.55" y="244.7" font-size="8.75" text-anchor="start" font-weight="normal" fill="#111" transform="rotate(-90 329.55 244.7)">L265P</text>
<text x="351.3" y="244.7" font-size="8.75" text-anchor="start" font-weight="normal" fill="#111" transform="rotate(-90 351.3 244.7)">V217F</text>
<text x="373.2" y="244.7" font-size="8.75" text-anchor="start" font-weight="normal" fill="#111" transform="rotate(-90 373.2 244.7)">S219C</text>
<text x="396.8" y="244.7" font-size="8.75" text-anchor="start" font-weight="normal" fill="#111" transform="rotate(-90 396.8 244.7)">I220T</text>
<text x="417.2" y="244.7" font-size="8.75" text-anchor="start" font-weight="normal" fill="#111" transform="rotate(-90 417.2 244.7)">S222R</text>
<text x="438.9" y="244.7" font-size="8.75" text-anchor="start" font-weight="normal" fill="#111" transform="rotate(-90 438.9 244.7)">S243N</text>
<text x="460.8" y="244.7" font-size="8.75" text-anchor="start" font-weight="normal" fill="#111" transform="rotate(-90 460.8 244.7)">T294P</text>
<text x="478.3" y="262.1" font-size="8.95" text-anchor="start" font-weight="normal" fill="#111">IB: MyD88</text>
<text x="478.3" y="287.1" font-size="8.85" text-anchor="start" font-weight="normal" fill="#111">IB: Tubulin</text>
<line x1="44.10" y1="356.96" x2="44.10" y2="473.26" stroke="#111" stroke-width="1.1"/>
<line x1="43.60" y1="472.76" x2="217.50" y2="472.76" stroke="#111" stroke-width="1.1"/>
<line x1="40.60" y1="472.76" x2="44.10" y2="472.76" stroke="#111" stroke-width="1.0"/>
<text x="40.2" y="475.51" font-size="9.8" text-anchor="end" font-weight="normal" fill="#111">-2</text>
<line x1="40.60" y1="449.70" x2="44.10" y2="449.70" stroke="#111" stroke-width="1.0"/>
<text x="40.2" y="452.45" font-size="9.8" text-anchor="end" font-weight="normal" fill="#111">0</text>
<line x1="40.60" y1="426.64" x2="44.10" y2="426.64" stroke="#111" stroke-width="1.0"/>
<text x="40.2" y="429.39" font-size="9.8" text-anchor="end" font-weight="normal" fill="#111">2</text>
<line x1="40.60" y1="403.58" x2="44.10" y2="403.58" stroke="#111" stroke-width="1.0"/>
<text x="40.2" y="406.33" font-size="9.8" text-anchor="end" font-weight="normal" fill="#111">4</text>
<line x1="40.60" y1="380.52" x2="44.10" y2="380.52" stroke="#111" stroke-width="1.0"/>
<text x="40.2" y="383.27" font-size="9.8" text-anchor="end" font-weight="normal" fill="#111">6</text>
<line x1="40.60" y1="357.46" x2="44.10" y2="357.46" stroke="#111" stroke-width="1.0"/>
<text x="40.2" y="360.21" font-size="9.8" text-anchor="end" font-weight="normal" fill="#111">8</text>
<line x1="58.70" y1="472.76" x2="58.70" y2="476.26" stroke="#111" stroke-width="1.0"/>
<text x="61.0" y="487.06" font-size="9.4" text-anchor="end" font-weight="normal" fill="#111" transform="rotate(-45 61.0 487.06)">Control-ProA</text>
<line x1="87.40" y1="472.76" x2="87.40" y2="476.26" stroke="#111" stroke-width="1.0"/>
<text x="89.7" y="487.06" font-size="9.4" text-anchor="end" font-weight="normal" fill="#111" transform="rotate(-45 89.7 487.06)">WT-ProA</text>
<line x1="116.30" y1="472.76" x2="116.30" y2="476.26" stroke="#111" stroke-width="1.0"/>
<text x="118.6" y="487.06" font-size="9.4" text-anchor="end" font-weight="normal" fill="#111" transform="rotate(-45 118.6 487.06)">L265P-ProA</text>
<line x1="145.30" y1="472.76" x2="145.30" y2="476.26" stroke="#111" stroke-width="1.0"/>
<text x="147.6" y="487.06" font-size="9.4" text-anchor="end" font-weight="normal" fill="#111" transform="rotate(-45 147.6 487.06)">Control-ProA</text>
<line x1="174.10" y1="472.76" x2="174.10" y2="476.26" stroke="#111" stroke-width="1.0"/>
<text x="176.4" y="487.06" font-size="9.4" text-anchor="end" font-weight="normal" fill="#111" transform="rotate(-45 176.4 487.06)">WT-ProA</text>
<line x1="203.00" y1="472.76" x2="203.00" y2="476.26" stroke="#111" stroke-width="1.0"/>
<text x="205.3" y="487.06" font-size="9.4" text-anchor="end" font-weight="normal" fill="#111" transform="rotate(-45 205.3 487.06)">L265P-ProA</text>
<circle cx="53.70" cy="449.70" r="2.7" fill="#8f8f8f"/>
<circle cx="55.70" cy="449.35" r="2.7" fill="#8f8f8f"/>
<circle cx="57.70" cy="449.70" r="2.7" fill="#8f8f8f"/>
<circle cx="59.70" cy="449.35" r="2.7" fill="#8f8f8f"/>
<circle cx="61.70" cy="449.70" r="2.7" fill="#8f8f8f"/>
<circle cx="63.70" cy="449.47" r="2.7" fill="#8f8f8f"/>
<circle cx="83.10" cy="436.67" r="3.1" fill="none" stroke="#1a1a1a" stroke-width="1.05"/>
<circle cx="91.90" cy="437.02" r="3.1" fill="none" stroke="#1a1a1a" stroke-width="1.05"/>
<circle cx="81.10" cy="441.17" r="3.1" fill="none" stroke="#1a1a1a" stroke-width="1.05"/>
<circle cx="93.90" cy="441.17" r="3.1" fill="none" stroke="#1a1a1a" stroke-width="1.05"/>
<circle cx="87.40" cy="440.25" r="3.1" fill="none" stroke="#1a1a1a" stroke-width="1.05"/>
<circle cx="83.90" cy="442.55" r="3.1" fill="none" stroke="#1a1a1a" stroke-width="1.05"/>
<circle cx="90.90" cy="442.55" r="3.1" fill="none" stroke="#1a1a1a" stroke-width="1.05"/>
<circle cx="82.40" cy="444.86" r="3.1" fill="none" stroke="#1a1a1a" stroke-width="1.05"/>
<circle cx="92.40" cy="444.86" r="3.1" fill="none" stroke="#1a1a1a" stroke-width="1.05"/>
<circle cx="87.40" cy="444.51" r="3.1" fill="none" stroke="#1a1a1a" stroke-width="1.05"/>
<circle cx="84.80" cy="446.70" r="3.1" fill="none" stroke="#1a1a1a" stroke-width="1.05"/>
<circle cx="90.00" cy="446.70" r="3.1" fill="none" stroke="#1a1a1a" stroke-width="1.05"/>
<circle cx="87.40" cy="448.32" r="3.1" fill="none" stroke="#1a1a1a" stroke-width="1.05"/>
<rect x="113.60" y="403.69" width="6.0" height="6.0" fill="none" stroke="#5e5e5e" stroke-width="1.4"/>
<rect x="107.90" y="416.49" width="6.0" height="6.0" fill="none" stroke="#5e5e5e" stroke-width="1.4"/>
<rect x="118.30" y="419.26" width="6.0" height="6.0" fill="none" stroke="#5e5e5e" stroke-width="1.4"/>
<rect x="110.30" y="423.06" width="6.0" height="6.0" fill="none" stroke="#5e5e5e" stroke-width="1.4"/>
<rect x="116.80" y="423.64" width="6.0" height="6.0" fill="none" stroke="#5e5e5e" stroke-width="1.4"/>
<rect x="107.80" y="426.87" width="6.0" height="6.0" fill="rgba(90,90,90,0.38)" stroke="#5e5e5e" stroke-width="1.4"/>
<rect x="113.30" y="426.52" width="6.0" height="6.0" fill="rgba(90,90,90,0.38)" stroke="#5e5e5e" stroke-width="1.4"/>
<rect x="118.80" y="427.10" width="6.0" height="6.0" fill="rgba(90,90,90,0.38)" stroke="#5e5e5e" stroke-width="1.4"/>
<rect x="107.80" y="431.13" width="6.0" height="6.0" fill="rgba(90,90,90,0.38)" stroke="#5e5e5e" stroke-width="1.4"/>
<rect x="118.80" y="431.71" width="6.0" height="6.0" fill="rgba(90,90,90,0.38)" stroke="#5e5e5e" stroke-width="1.4"/>
<rect x="111.30" y="432.86" width="6.0" height="6.0" fill="rgba(90,90,90,0.38)" stroke="#5e5e5e" stroke-width="1.4"/>
<rect x="115.80" y="433.44" width="6.0" height="6.0" fill="rgba(90,90,90,0.38)" stroke="#5e5e5e" stroke-width="1.4"/>
<rect x="107.80" y="436.32" width="6.0" height="6.0" fill="rgba(90,90,90,0.38)" stroke="#5e5e5e" stroke-width="1.4"/>
<rect x="118.80" y="436.32" width="6.0" height="6.0" fill="rgba(90,90,90,0.38)" stroke="#5e5e5e" stroke-width="1.4"/>
<rect x="111.80" y="437.48" width="6.0" height="6.0" fill="rgba(90,90,90,0.38)" stroke="#5e5e5e" stroke-width="1.4"/>
<rect x="115.30" y="438.05" width="6.0" height="6.0" fill="rgba(90,90,90,0.38)" stroke="#5e5e5e" stroke-width="1.4"/>
<rect x="109.30" y="439.78" width="6.0" height="6.0" fill="none" stroke="#5e5e5e" stroke-width="1.4"/>
<rect x="117.80" y="439.78" width="6.0" height="6.0" fill="none" stroke="#5e5e5e" stroke-width="1.4"/>
<rect x="111.80" y="444.39" width="6.0" height="6.0" fill="none" stroke="#5e5e5e" stroke-width="1.4"/>
<rect x="115.80" y="443.82" width="6.0" height="6.0" fill="none" stroke="#5e5e5e" stroke-width="1.4"/>
<circle cx="141.00" cy="446.82" r="2.7" fill="#8f8f8f"/>
<circle cx="149.60" cy="446.82" r="2.7" fill="#8f8f8f"/>
<circle cx="145.30" cy="450.28" r="2.7" fill="#8f8f8f"/>
<circle cx="143.30" cy="448.78" r="2.7" fill="#8f8f8f"/>
<circle cx="147.30" cy="448.78" r="2.7" fill="#8f8f8f"/>
<rect x="171.10" y="372.45" width="6.0" height="6.0" fill="none" stroke="#5e5e5e" stroke-width="1.4"/>
<rect x="166.30" y="407.50" width="6.0" height="6.0" fill="none" stroke="#5e5e5e" stroke-width="1.4"/>
<rect x="176.60" y="406.92" width="6.0" height="6.0" fill="none" stroke="#5e5e5e" stroke-width="1.4"/>
<rect x="171.40" y="409.80" width="6.0" height="6.0" fill="none" stroke="#5e5e5e" stroke-width="1.4"/>
<rect x="167.60" y="412.69" width="6.0" height="6.0" fill="none" stroke="#5e5e5e" stroke-width="1.4"/>
<rect x="175.60" y="412.69" width="6.0" height="6.0" fill="none" stroke="#5e5e5e" stroke-width="1.4"/>
<rect x="166.60" y="417.30" width="6.0" height="6.0" fill="none" stroke="#5e5e5e" stroke-width="1.4"/>
<rect x="174.60" y="417.30" width="6.0" height="6.0" fill="none" stroke="#5e5e5e" stroke-width="1.4"/>
<rect x="171.10" y="421.33" width="6.0" height="6.0" fill="none" stroke="#5e5e5e" stroke-width="1.4"/>
<rect x="165.60" y="431.71" width="6.0" height="6.0" fill="rgba(90,90,90,0.38)" stroke="#5e5e5e" stroke-width="1.4"/>
<rect x="176.60" y="431.13" width="6.0" height="6.0" fill="rgba(90,90,90,0.38)" stroke="#5e5e5e" stroke-width="1.4"/>
<rect x="175.60" y="433.44" width="6.0" height="6.0" fill="rgba(90,90,90,0.38)" stroke="#5e5e5e" stroke-width="1.4"/>
<rect x="166.60" y="435.17" width="6.0" height="6.0" fill="rgba(90,90,90,0.38)" stroke="#5e5e5e" stroke-width="1.4"/>
<rect x="171.10" y="435.75" width="6.0" height="6.0" fill="rgba(90,90,90,0.38)" stroke="#5e5e5e" stroke-width="1.4"/>
<rect x="176.10" y="435.17" width="6.0" height="6.0" fill="none" stroke="#5e5e5e" stroke-width="1.4"/>
<rect x="166.60" y="438.63" width="6.0" height="6.0" fill="none" stroke="#5e5e5e" stroke-width="1.4"/>
<rect x="173.10" y="438.63" width="6.0" height="6.0" fill="none" stroke="#5e5e5e" stroke-width="1.4"/>
<rect x="166.80" y="441.17" width="6.0" height="6.0" fill="none" stroke="#5e5e5e" stroke-width="1.4"/>
<rect x="176.10" y="441.17" width="6.0" height="6.0" fill="none" stroke="#5e5e5e" stroke-width="1.4"/>
<rect x="173.10" y="444.62" width="6.0" height="6.0" fill="none" stroke="#5e5e5e" stroke-width="1.4"/>
<rect x="168.90" y="448.66" width="6.0" height="6.0" fill="none" stroke="#5e5e5e" stroke-width="1.4"/>
<polygon points="198.30,405.14 202.50,409.34 198.30,413.54 194.10,409.34" fill="none" stroke="#1a1a1a" stroke-width="1.1"/>
<polygon points="207.40,404.11 211.60,408.31 207.40,412.51 203.20,408.31" fill="none" stroke="#1a1a1a" stroke-width="1.1"/>
<polygon points="198.30,408.14 202.50,412.34 198.30,416.54 194.10,412.34" fill="none" stroke="#1a1a1a" stroke-width="1.1"/>
<polygon points="208.20,411.03 212.40,415.23 208.20,419.43 204.00,415.23" fill="none" stroke="#1a1a1a" stroke-width="1.1"/>
<polygon points="199.40,413.22 203.60,417.42 199.40,421.62 195.20,417.42" fill="none" stroke="#1a1a1a" stroke-width="1.1"/>
<polygon points="197.50,418.75 201.70,422.95 197.50,427.15 193.30,422.95" fill="none" stroke="#1a1a1a" stroke-width="1.1"/>
<polygon points="207.60,418.75 211.80,422.95 207.60,427.15 203.40,422.95" fill="none" stroke="#1a1a1a" stroke-width="1.1"/>
<polygon points="198.50,424.17 202.70,428.37 198.50,432.57 194.30,428.37" fill="none" stroke="#1a1a1a" stroke-width="1.1"/>
<polygon points="207.20,423.82 211.40,428.02 207.20,432.22 203.00,428.02" fill="none" stroke="#1a1a1a" stroke-width="1.1"/>
<polygon points="197.60,429.82 201.80,434.02 197.60,438.22 193.40,434.02" fill="rgba(35,35,35,0.6)" stroke="#3a3a3a" stroke-width="0.8"/>
<polygon points="208.20,429.82 212.40,434.02 208.20,438.22 204.00,434.02" fill="rgba(35,35,35,0.6)" stroke="#3a3a3a" stroke-width="0.8"/>
<polygon points="197.60,432.82 201.80,437.02 197.60,441.22 193.40,437.02" fill="rgba(35,35,35,0.6)" stroke="#3a3a3a" stroke-width="0.8"/>
<polygon points="208.20,432.82 212.40,437.02 208.20,441.22 204.00,437.02" fill="rgba(35,35,35,0.6)" stroke="#3a3a3a" stroke-width="0.8"/>
<polygon points="197.60,434.20 201.80,438.40 197.60,442.60 193.40,438.40" fill="rgba(35,35,35,0.6)" stroke="#3a3a3a" stroke-width="0.8"/>
<polygon points="208.20,434.20 212.40,438.40 208.20,442.60 204.00,438.40" fill="rgba(35,35,35,0.6)" stroke="#3a3a3a" stroke-width="0.8"/>
<polygon points="201.20,432.24 205.40,436.44 201.20,440.64 197.00,436.44" fill="rgba(35,35,35,0.6)" stroke="#3a3a3a" stroke-width="0.8"/>
<polygon points="204.80,431.66 209.00,435.86 204.80,440.06 200.60,435.86" fill="rgba(35,35,35,0.6)" stroke="#3a3a3a" stroke-width="0.8"/>
<polygon points="207.60,442.04 211.80,446.24 207.60,450.44 203.40,446.24" fill="none" stroke="#1a1a1a" stroke-width="1.1"/>
<polygon points="198.30,447.92 202.50,452.12 198.30,456.32 194.10,452.12" fill="none" stroke="#1a1a1a" stroke-width="1.1"/>
<line x1="48.50" y1="449.70" x2="68.90" y2="449.70" stroke="#000" stroke-width="1.25"/>
<line x1="77.20" y1="443.47" x2="97.60" y2="443.47" stroke="#000" stroke-width="1.45"/>
<line x1="87.40" y1="445.66" x2="87.40" y2="440.82" stroke="#000" stroke-width="1.45"/>
<line x1="82.60" y1="445.66" x2="92.20" y2="445.66" stroke="#000" stroke-width="1.45"/>
<line x1="82.60" y1="440.82" x2="92.20" y2="440.82" stroke="#000" stroke-width="1.45"/>
<line x1="106.00" y1="433.90" x2="126.60" y2="433.90" stroke="#000" stroke-width="1.45"/>
<line x1="116.30" y1="444.51" x2="116.30" y2="424.45" stroke="#000" stroke-width="1.45"/>
<line x1="111.50" y1="444.51" x2="121.10" y2="444.51" stroke="#000" stroke-width="1.45"/>
<line x1="111.50" y1="424.45" x2="121.10" y2="424.45" stroke="#000" stroke-width="1.45"/>
<line x1="135.30" y1="449.70" x2="155.30" y2="449.70" stroke="#000" stroke-width="1.25"/>
<line x1="164.20" y1="427.33" x2="184.00" y2="427.33" stroke="#000" stroke-width="1.45"/>
<line x1="174.10" y1="444.74" x2="174.10" y2="410.61" stroke="#000" stroke-width="1.45"/>
<line x1="169.30" y1="444.74" x2="178.90" y2="444.74" stroke="#000" stroke-width="1.45"/>
<line x1="169.30" y1="410.61" x2="178.90" y2="410.61" stroke="#000" stroke-width="1.45"/>
<line x1="193.10" y1="430.21" x2="212.90" y2="430.21" stroke="#000" stroke-width="1.45"/>
<line x1="203.00" y1="442.44" x2="203.00" y2="417.19" stroke="#000" stroke-width="1.45"/>
<line x1="198.20" y1="442.44" x2="207.80" y2="442.44" stroke="#000" stroke-width="1.45"/>
<line x1="198.20" y1="417.19" x2="207.80" y2="417.19" stroke="#000" stroke-width="1.45"/>
<text x="82.3" y="337.5" font-size="9.0" text-anchor="middle" font-weight="normal" fill="#111">Full length MyD88</text>
<text x="13.8" y="414.7" font-size="9.0" text-anchor="middle" fill="#111" transform="rotate(-90 13.8 414.7)">Bound/raw luciferase</text>
<text x="26.3" y="414.7" font-size="9.0" text-anchor="middle" fill="#111" transform="rotate(-90 26.3 414.7)">over background</text>
<path d="M88.75 370.9 V367.7 H202.8 V370.9" fill="none" stroke="#111" stroke-width="1.2"/>
<text x="144.6" y="365.1" font-size="8" text-anchor="middle" font-weight="bold" fill="#000">*</text>
<path d="M88.75 383.2 V380 H116.25 V383.2" fill="none" stroke="#111" stroke-width="1.2"/>
<text x="102.8" y="377.9" font-size="8" text-anchor="middle" font-weight="bold" fill="#000">*</text>
<path d="M173.75 359.0 V355.8 H202.8 V359.0" fill="none" stroke="#111" stroke-width="1.2"/>
<text x="187.8" y="352" font-size="9" text-anchor="middle" font-weight="normal" fill="#111">ns</text>
<line x1="48.70" y1="532.00" x2="128.20" y2="532.00" stroke="#111" stroke-width="1.4"/>
<line x1="48.70" y1="528.70" x2="48.70" y2="535.30" stroke="#111" stroke-width="1.3"/>
<line x1="128.20" y1="528.70" x2="128.20" y2="535.30" stroke="#111" stroke-width="1.3"/>
<text x="89.8" y="544.6" font-size="9.5" text-anchor="middle" font-weight="normal" fill="#111">WT-Ren</text>
<line x1="139.20" y1="531.50" x2="218.30" y2="531.50" stroke="#111" stroke-width="1.4"/>
<line x1="139.20" y1="528.20" x2="139.20" y2="534.80" stroke="#111" stroke-width="1.3"/>
<line x1="218.30" y1="528.20" x2="218.30" y2="534.80" stroke="#111" stroke-width="1.3"/>
<text x="178.6" y="543.9" font-size="9.5" text-anchor="middle" font-weight="normal" fill="#111">L265P-Ren</text>
<line x1="288.10" y1="357.82" x2="288.10" y2="472.26" stroke="#111" stroke-width="1.1"/>
<line x1="287.60" y1="471.76" x2="458.50" y2="471.76" stroke="#111" stroke-width="1.1"/>
<line x1="284.60" y1="471.76" x2="288.10" y2="471.76" stroke="#111" stroke-width="1.0"/>
<text x="284.2" y="474.51" font-size="9.8" text-anchor="end" font-weight="normal" fill="#111">-2</text>
<line x1="284.60" y1="443.40" x2="288.10" y2="443.40" stroke="#111" stroke-width="1.0"/>
<text x="284.2" y="446.15" font-size="9.8" text-anchor="end" font-weight="normal" fill="#111">0</text>
<line x1="284.60" y1="415.04" x2="288.10" y2="415.04" stroke="#111" stroke-width="1.0"/>
<text x="284.2" y="417.79" font-size="9.8" text-anchor="end" font-weight="normal" fill="#111">2</text>
<line x1="284.60" y1="386.68" x2="288.10" y2="386.68" stroke="#111" stroke-width="1.0"/>
<text x="284.2" y="389.43" font-size="9.8" text-anchor="end" font-weight="normal" fill="#111">4</text>
<line x1="284.60" y1="358.32" x2="288.10" y2="358.32" stroke="#111" stroke-width="1.0"/>
<text x="284.2" y="361.07" font-size="9.8" text-anchor="end" font-weight="normal" fill="#111">6</text>
<line x1="302.20" y1="471.76" x2="302.20" y2="475.26" stroke="#111" stroke-width="1.0"/>
<text x="304.5" y="486.06" font-size="9.4" text-anchor="end" font-weight="normal" fill="#111" transform="rotate(-45 304.5 486.06)">Control-ProA</text>
<line x1="330.70" y1="471.76" x2="330.70" y2="475.26" stroke="#111" stroke-width="1.0"/>
<text x="333.0" y="486.06" font-size="9.4" text-anchor="end" font-weight="normal" fill="#111" transform="rotate(-45 333.0 486.06)">WT-ProA</text>
<line x1="359.00" y1="471.76" x2="359.00" y2="475.26" stroke="#111" stroke-width="1.0"/>
<text x="361.3" y="486.06" font-size="9.4" text-anchor="end" font-weight="normal" fill="#111" transform="rotate(-45 361.3 486.06)">L265P-ProA</text>
<line x1="387.30" y1="471.76" x2="387.30" y2="475.26" stroke="#111" stroke-width="1.0"/>
<text x="389.6" y="486.06" font-size="9.4" text-anchor="end" font-weight="normal" fill="#111" transform="rotate(-45 389.6 486.06)">Control-ProA</text>
<line x1="415.70" y1="471.76" x2="415.70" y2="475.26" stroke="#111" stroke-width="1.0"/>
<text x="418.0" y="486.06" font-size="9.4" text-anchor="end" font-weight="normal" fill="#111" transform="rotate(-45 418.0 486.06)">WT-ProA</text>
<line x1="444.00" y1="471.76" x2="444.00" y2="475.26" stroke="#111" stroke-width="1.0"/>
<text x="446.3" y="486.06" font-size="9.4" text-anchor="end" font-weight="normal" fill="#111" transform="rotate(-45 446.3 486.06)">L265P-ProA</text>
<circle cx="297.20" cy="443.40" r="2.7" fill="#8f8f8f"/>
<circle cx="299.20" cy="442.97" r="2.7" fill="#8f8f8f"/>
<circle cx="301.20" cy="443.40" r="2.7" fill="#8f8f8f"/>
<circle cx="303.20" cy="442.97" r="2.7" fill="#8f8f8f"/>
<circle cx="305.20" cy="443.40" r="2.7" fill="#8f8f8f"/>
<circle cx="307.20" cy="443.12" r="2.7" fill="#8f8f8f"/>
<circle cx="334.90" cy="415.75" r="3.1" fill="none" stroke="#1a1a1a" stroke-width="1.05"/>
<circle cx="326.10" cy="417.88" r="3.1" fill="none" stroke="#1a1a1a" stroke-width="1.05"/>
<circle cx="324.90" cy="423.26" r="3.1" fill="none" stroke="#1a1a1a" stroke-width="1.05"/>
<circle cx="330.20" cy="423.83" r="3.1" fill="none" stroke="#1a1a1a" stroke-width="1.05"/>
<circle cx="335.70" cy="423.26" r="3.1" fill="none" stroke="#1a1a1a" stroke-width="1.05"/>
<circle cx="325.50" cy="426.67" r="3.1" fill="none" stroke="#1a1a1a" stroke-width="1.05"/>
<circle cx="336.50" cy="426.95" r="3.1" fill="none" stroke="#1a1a1a" stroke-width="1.05"/>
<circle cx="325.90" cy="430.78" r="3.1" fill="none" stroke="#1a1a1a" stroke-width="1.05"/>
<circle cx="334.40" cy="430.78" r="3.1" fill="none" stroke="#1a1a1a" stroke-width="1.05"/>
<circle cx="325.10" cy="434.61" r="3.1" fill="none" stroke="#1a1a1a" stroke-width="1.05"/>
<circle cx="331.00" cy="434.18" r="3.1" fill="none" stroke="#1a1a1a" stroke-width="1.05"/>
<circle cx="336.10" cy="434.04" r="3.1" fill="none" stroke="#1a1a1a" stroke-width="1.05"/>
<circle cx="327.10" cy="438.01" r="3.1" fill="none" stroke="#1a1a1a" stroke-width="1.05"/>
<circle cx="335.10" cy="437.02" r="3.1" fill="none" stroke="#1a1a1a" stroke-width="1.05"/>
<circle cx="329.10" cy="440.56" r="3.1" fill="none" stroke="#1a1a1a" stroke-width="1.05"/>
<circle cx="332.90" cy="440.56" r="3.1" fill="none" stroke="#1a1a1a" stroke-width="1.05"/>
<rect x="360.40" y="382.55" width="6.0" height="6.0" fill="none" stroke="#5e5e5e" stroke-width="1.4"/>
<rect x="352.00" y="389.49" width="6.0" height="6.0" fill="none" stroke="#5e5e5e" stroke-width="1.4"/>
<rect x="350.50" y="402.82" width="6.0" height="6.0" fill="rgba(90,90,90,0.38)" stroke="#5e5e5e" stroke-width="1.4"/>
<rect x="354.00" y="402.40" width="6.0" height="6.0" fill="rgba(90,90,90,0.38)" stroke="#5e5e5e" stroke-width="1.4"/>
<rect x="358.00" y="402.82" width="6.0" height="6.0" fill="rgba(90,90,90,0.38)" stroke="#5e5e5e" stroke-width="1.4"/>
<rect x="361.50" y="402.82" width="6.0" height="6.0" fill="rgba(90,90,90,0.38)" stroke="#5e5e5e" stroke-width="1.4"/>
<rect x="350.50" y="406.37" width="6.0" height="6.0" fill="rgba(90,90,90,0.38)" stroke="#5e5e5e" stroke-width="1.4"/>
<rect x="354.00" y="406.37" width="6.0" height="6.0" fill="rgba(90,90,90,0.38)" stroke="#5e5e5e" stroke-width="1.4"/>
<rect x="358.00" y="406.65" width="6.0" height="6.0" fill="rgba(90,90,90,0.38)" stroke="#5e5e5e" stroke-width="1.4"/>
<rect x="361.50" y="406.37" width="6.0" height="6.0" fill="rgba(90,90,90,0.38)" stroke="#5e5e5e" stroke-width="1.4"/>
<rect x="352.00" y="409.91" width="6.0" height="6.0" fill="rgba(90,90,90,0.38)" stroke="#5e5e5e" stroke-width="1.4"/>
<rect x="356.00" y="409.91" width="6.0" height="6.0" fill="none" stroke="#5e5e5e" stroke-width="1.4"/>
<rect x="360.00" y="409.91" width="6.0" height="6.0" fill="rgba(90,90,90,0.38)" stroke="#5e5e5e" stroke-width="1.4"/>
<rect x="350.80" y="417.71" width="6.0" height="6.0" fill="none" stroke="#5e5e5e" stroke-width="1.4"/>
<rect x="361.20" y="417.71" width="6.0" height="6.0" fill="none" stroke="#5e5e5e" stroke-width="1.4"/>
<rect x="354.20" y="421.97" width="6.0" height="6.0" fill="none" stroke="#5e5e5e" stroke-width="1.4"/>
<rect x="359.40" y="424.09" width="6.0" height="6.0" fill="none" stroke="#5e5e5e" stroke-width="1.4"/>
<rect x="361.20" y="428.49" width="6.0" height="6.0" fill="none" stroke="#5e5e5e" stroke-width="1.4"/>
<rect x="351.70" y="433.31" width="6.0" height="6.0" fill="none" stroke="#5e5e5e" stroke-width="1.4"/>
<rect x="359.40" y="434.73" width="6.0" height="6.0" fill="none" stroke="#5e5e5e" stroke-width="1.4"/>
<rect x="353.00" y="436.85" width="6.0" height="6.0" fill="none" stroke="#5e5e5e" stroke-width="1.4"/>
<circle cx="382.30" cy="443.40" r="2.7" fill="#8f8f8f"/>
<circle cx="384.30" cy="442.97" r="2.7" fill="#8f8f8f"/>
<circle cx="386.30" cy="443.40" r="2.7" fill="#8f8f8f"/>
<circle cx="388.30" cy="442.97" r="2.7" fill="#8f8f8f"/>
<circle cx="390.30" cy="443.40" r="2.7" fill="#8f8f8f"/>
<circle cx="392.30" cy="443.12" r="2.7" fill="#8f8f8f"/>
<rect x="408.70" y="365.25" width="6.0" height="6.0" fill="none" stroke="#5e5e5e" stroke-width="1.4"/>
<rect x="416.70" y="365.25" width="6.0" height="6.0" fill="none" stroke="#5e5e5e" stroke-width="1.4"/>
<rect x="407.70" y="369.78" width="6.0" height="6.0" fill="none" stroke="#5e5e5e" stroke-width="1.4"/>
<rect x="413.00" y="371.63" width="6.0" height="6.0" fill="none" stroke="#5e5e5e" stroke-width="1.4"/>
<rect x="418.00" y="369.78" width="6.0" height="6.0" fill="none" stroke="#5e5e5e" stroke-width="1.4"/>
<rect x="413.50" y="374.89" width="6.0" height="6.0" fill="none" stroke="#5e5e5e" stroke-width="1.4"/>
<rect x="408.40" y="385.10" width="6.0" height="6.0" fill="none" stroke="#5e5e5e" stroke-width="1.4"/>
<rect x="416.70" y="383.68" width="6.0" height="6.0" fill="none" stroke="#5e5e5e" stroke-width="1.4"/>
<rect x="416.90" y="388.50" width="6.0" height="6.0" fill="none" stroke="#5e5e5e" stroke-width="1.4"/>
<rect x="408.40" y="393.75" width="6.0" height="6.0" fill="none" stroke="#5e5e5e" stroke-width="1.4"/>
<rect x="415.70" y="393.75" width="6.0" height="6.0" fill="none" stroke="#5e5e5e" stroke-width="1.4"/>
<rect x="408.90" y="398.43" width="6.0" height="6.0" fill="none" stroke="#5e5e5e" stroke-width="1.4"/>
<rect x="417.70" y="400.70" width="6.0" height="6.0" fill="none" stroke="#5e5e5e" stroke-width="1.4"/>
<rect x="409.90" y="404.81" width="6.0" height="6.0" fill="none" stroke="#5e5e5e" stroke-width="1.4"/>
<rect x="416.70" y="404.81" width="6.0" height="6.0" fill="none" stroke="#5e5e5e" stroke-width="1.4"/>
<rect x="407.70" y="421.68" width="6.0" height="6.0" fill="none" stroke="#5e5e5e" stroke-width="1.4"/>
<rect x="418.00" y="423.67" width="6.0" height="6.0" fill="none" stroke="#5e5e5e" stroke-width="1.4"/>
<rect x="412.90" y="425.94" width="6.0" height="6.0" fill="none" stroke="#5e5e5e" stroke-width="1.4"/>
<polygon points="439.10,386.45 443.30,390.65 439.10,394.85 434.90,390.65" fill="none" stroke="#1a1a1a" stroke-width="1.1"/>
<polygon points="449.60,392.12 453.80,396.32 449.60,400.52 445.40,396.32" fill="none" stroke="#1a1a1a" stroke-width="1.1"/>
<polygon points="444.00,392.69 448.20,396.89 444.00,401.09 439.80,396.89" fill="none" stroke="#1a1a1a" stroke-width="1.1"/>
<polygon points="438.80,393.97 443.00,398.17 438.80,402.37 434.60,398.17" fill="none" stroke="#1a1a1a" stroke-width="1.1"/>
<polygon points="448.80,401.76 453.00,405.96 448.80,410.16 444.60,405.96" fill="none" stroke="#1a1a1a" stroke-width="1.1"/>
<polygon points="448.20,404.74 452.40,408.94 448.20,413.14 444.00,408.94" fill="none" stroke="#1a1a1a" stroke-width="1.1"/>
<polygon points="439.10,406.59 443.30,410.79 439.10,414.99 434.90,410.79" fill="none" stroke="#1a1a1a" stroke-width="1.1"/>
<polygon points="437.70,412.97 441.90,417.17 437.70,421.37 433.50,417.17" fill="rgba(35,35,35,0.6)" stroke="#3a3a3a" stroke-width="0.8"/>
<polygon points="441.90,412.97 446.10,417.17 441.90,421.37 437.70,417.17" fill="rgba(35,35,35,0.6)" stroke="#3a3a3a" stroke-width="0.8"/>
<polygon points="446.10,412.97 450.30,417.17 446.10,421.37 441.90,417.17" fill="rgba(35,35,35,0.6)" stroke="#3a3a3a" stroke-width="0.8"/>
<polygon points="450.30,412.97 454.50,417.17 450.30,421.37 446.10,417.17" fill="rgba(35,35,35,0.6)" stroke="#3a3a3a" stroke-width="0.8"/>
<polygon points="439.80,416.51 444.00,420.71 439.80,424.91 435.60,420.71" fill="rgba(35,35,35,0.6)" stroke="#3a3a3a" stroke-width="0.8"/>
<polygon points="444.00,416.51 448.20,420.71 444.00,424.91 439.80,420.71" fill="rgba(35,35,35,0.6)" stroke="#3a3a3a" stroke-width="0.8"/>
<polygon points="448.20,416.51 452.40,420.71 448.20,424.91 444.00,420.71" fill="rgba(35,35,35,0.6)" stroke="#3a3a3a" stroke-width="0.8"/>
<polygon points="442.00,419.92 446.20,424.12 442.00,428.32 437.80,424.12" fill="rgba(35,35,35,0.6)" stroke="#3a3a3a" stroke-width="0.8"/>
<polygon points="446.00,419.92 450.20,424.12 446.00,428.32 441.80,424.12" fill="rgba(35,35,35,0.6)" stroke="#3a3a3a" stroke-width="0.8"/>
<polygon points="444.00,422.89 448.20,427.09 444.00,431.29 439.80,427.09" fill="rgba(35,35,35,0.6)" stroke="#3a3a3a" stroke-width="0.8"/>
<polygon points="438.80,432.39 443.00,436.59 438.80,440.79 434.60,436.59" fill="none" stroke="#1a1a1a" stroke-width="1.1"/>
<polygon points="449.20,433.67 453.40,437.87 449.20,442.07 445.00,437.87" fill="none" stroke="#1a1a1a" stroke-width="1.1"/>
<polygon points="444.00,435.65 448.20,439.85 444.00,444.05 439.80,439.85" fill="none" stroke="#1a1a1a" stroke-width="1.1"/>
<line x1="292.20" y1="443.40" x2="312.20" y2="443.40" stroke="#000" stroke-width="1.25"/>
<line x1="320.90" y1="429.08" x2="340.50" y2="429.08" stroke="#000" stroke-width="1.45"/>
<line x1="330.70" y1="435.46" x2="330.70" y2="422.41" stroke="#000" stroke-width="1.45"/>
<line x1="325.90" y1="435.46" x2="335.50" y2="435.46" stroke="#000" stroke-width="1.45"/>
<line x1="325.90" y1="422.41" x2="335.50" y2="422.41" stroke="#000" stroke-width="1.45"/>
<line x1="349.00" y1="416.32" x2="369.00" y2="416.32" stroke="#000" stroke-width="1.45"/>
<line x1="359.00" y1="430.21" x2="359.00" y2="402.42" stroke="#000" stroke-width="1.45"/>
<line x1="354.20" y1="430.21" x2="363.80" y2="430.21" stroke="#000" stroke-width="1.45"/>
<line x1="354.20" y1="402.42" x2="363.80" y2="402.42" stroke="#000" stroke-width="1.45"/>
<line x1="377.30" y1="443.40" x2="397.30" y2="443.40" stroke="#000" stroke-width="1.25"/>
<line x1="405.70" y1="394.05" x2="425.70" y2="394.05" stroke="#000" stroke-width="1.45"/>
<line x1="415.70" y1="412.35" x2="415.70" y2="375.05" stroke="#000" stroke-width="1.45"/>
<line x1="410.90" y1="412.35" x2="420.50" y2="412.35" stroke="#000" stroke-width="1.45"/>
<line x1="410.90" y1="375.05" x2="420.50" y2="375.05" stroke="#000" stroke-width="1.45"/>
<line x1="434.00" y1="416.32" x2="454.00" y2="416.32" stroke="#000" stroke-width="1.45"/>
<line x1="444.00" y1="430.07" x2="444.00" y2="403.27" stroke="#000" stroke-width="1.45"/>
<line x1="439.20" y1="430.07" x2="448.80" y2="430.07" stroke="#000" stroke-width="1.45"/>
<line x1="439.20" y1="403.27" x2="448.80" y2="403.27" stroke="#000" stroke-width="1.45"/>
<text x="322" y="340.5" font-size="9.0" text-anchor="middle" font-weight="normal" fill="#111">TIR domain only</text>
<text x="259.0" y="414.7" font-size="9.0" text-anchor="middle" fill="#111" transform="rotate(-90 259.0 414.7)">Bound/raw luciferase</text>
<text x="271.0" y="414.7" font-size="9.0" text-anchor="middle" fill="#111" transform="rotate(-90 271.0 414.7)">over background</text>
<path d="M332.2 361.09999999999997 V357.9 H443.8 V361.09999999999997" fill="none" stroke="#111" stroke-width="1.2"/>
<text x="386.3" y="356.0" font-size="8" text-anchor="middle" font-weight="bold" fill="#000">*</text>
<path d="M332.2 373.2 V370.0 H359.6 V373.2" fill="none" stroke="#111" stroke-width="1.2"/>
<text x="346.1" y="368.2" font-size="8" text-anchor="middle" font-weight="bold" fill="#000">*</text>
<path d="M415.1 349.3 V346.1 H443.8 V349.3" fill="none" stroke="#111" stroke-width="1.2"/>
<text x="429.8" y="343.4" font-size="8" text-anchor="middle" font-weight="bold" fill="#000">*</text>
<line x1="293.00" y1="529.50" x2="370.50" y2="529.50" stroke="#111" stroke-width="1.4"/>
<line x1="293.00" y1="526.20" x2="293.00" y2="532.80" stroke="#111" stroke-width="1.3"/>
<line x1="370.50" y1="526.20" x2="370.50" y2="532.80" stroke="#111" stroke-width="1.3"/>
<text x="333.2" y="543.5" font-size="9.5" text-anchor="middle" font-weight="normal" fill="#111">WT-Ren</text>
<line x1="381.20" y1="529.00" x2="459.30" y2="529.00" stroke="#111" stroke-width="1.4"/>
<line x1="381.20" y1="525.70" x2="381.20" y2="532.30" stroke="#111" stroke-width="1.3"/>
<line x1="459.30" y1="525.70" x2="459.30" y2="532.30" stroke="#111" stroke-width="1.3"/>
<text x="420" y="542.8" font-size="9.5" text-anchor="middle" font-weight="normal" fill="#111">L265P-Ren</text>
</g>
</svg></body></html>
